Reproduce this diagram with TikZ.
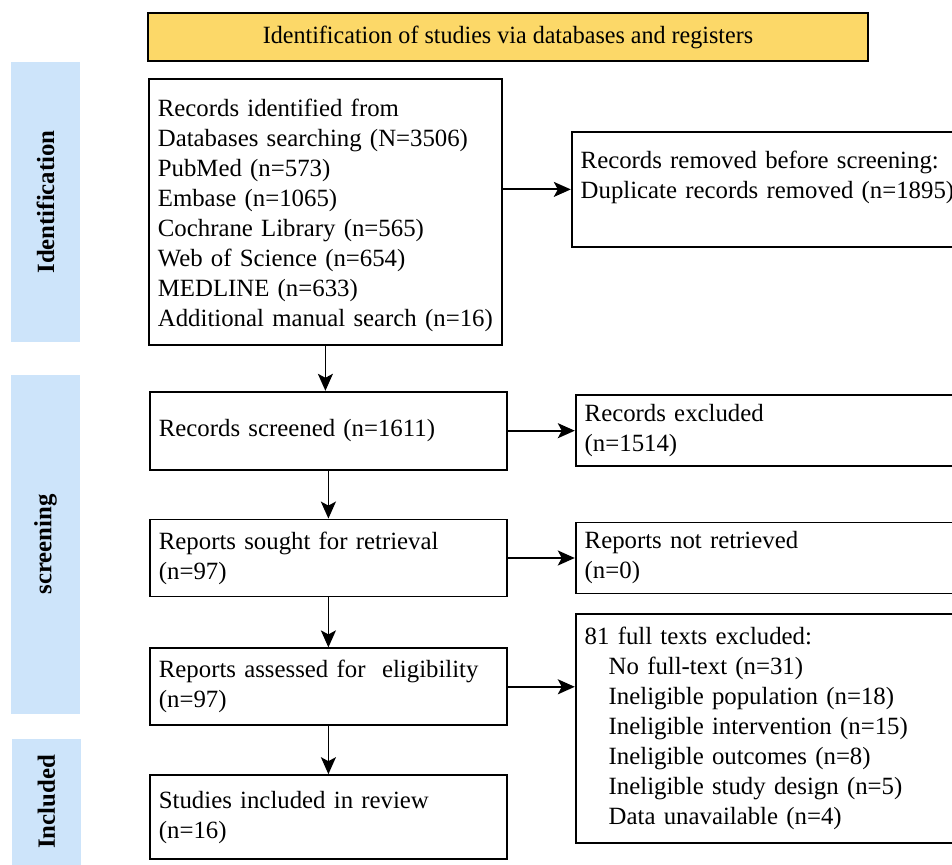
\documentclass[tikz,border=0pt]{standalone}
\usepackage{fontspec}
\setmainfont{Liberation Serif}
\usetikzlibrary{arrows.meta, positioning}
\definecolor{titleyellow}{RGB}{252,216,104}
\definecolor{phaseblue}{RGB}{205,228,250}
\tikzset{
>={Stealth[length=8.5pt,width=7.5pt,inset=2pt]}, % bold arrow heads
every node/.style={inner sep=1pt},
box/.style={draw, line width=0.9pt, align=left, inner xsep=4.5pt, inner ysep=0pt}, % flow boxes
phase/.style={fill=phaseblue, rotate=90, font=\fontsize{12.4}{15}\selectfont\bfseries}, % blue side bars
}

\begin{document}
\begin{tikzpicture}[x=0.5pt, y=-0.5pt, font=\fontsize{12.4}{15}\selectfont]
  \clip (0,0) rectangle (952,865);

  % phases on the left
  \node[phase, minimum width=140pt, minimum height=34.5pt] (pid) at (45.5,202) {Identification};
  \node[phase, minimum width=169.5pt, minimum height=34.5pt] (pscr) at (45.5,544.5) {screening};
  \node[phase, minimum width=63pt, minimum height=34.5pt] (pinc) at (46.5,802) {Included};

  % title
  \node[draw, line width=0.9pt, fill=titleyellow, minimum width=360pt, minimum height=24pt] (title) at (508,37)
    {\scalebox{0.97}[1]{Identification of studies via databases and registers}};

  % main column
  \node[box, anchor=north west, text width=167.5pt, minimum height=133pt] (records) at (148,78)
    {\rule{0pt}{12.5pt}Records identified from\\ Databases searching (N=3506)\\ PubMed (n=573)\\ Embase (n=1065)\\
     Cochrane Library (n=565)\\ Web of Science (n=654)\\ MEDLINE (n=633)\\ Additional manual search (n=16)};
  \node[box, below=22.5pt of records.south west, anchor=north west, xshift=0.5pt, text width=169.5pt, minimum height=39pt] (screened)
    {Records screened (n=1611)};
  \node[box, below=24pt of screened.south west, anchor=north west, text width=169.5pt, minimum height=38.5pt] (sought)
    {Reports sought for retrieval\\ (n=97)};
  \node[box, below=25pt of sought.south west, anchor=north west, text width=169.5pt, minimum height=38.5pt] (assessed)
    {Reports assessed for \ eligibility\\ (n=97)};
  \node[box, below=24pt of assessed.south west, anchor=north west, text width=169.5pt, minimum height=42pt] (included)
    {Studies included in review\\ (n=16)};

  % right column
  \node[box, right=34pt of records.east, yshift=11.25pt, text width=191pt, minimum height=57.5pt] (removed)
    {Records removed before screening:\\ Duplicate records removed (n=1895)\\ \mbox{}};
  \node[box, right=33.5pt of screened, text width=191pt, minimum height=35.5pt] (excluded)
    {Records excluded\\ (n=1514)};
  \node[box, right=33.5pt of sought, text width=191pt, minimum height=35.5pt] (notretr)
    {Reports not retrieved\\ (n=0)};
  \node[box, right=33.5pt of assessed.east, yshift=-21pt, text width=191pt, minimum height=114.5pt] (fulltext)
    {81 full texts excluded:\\
     \hspace{12pt}No full-text (n=31)\\
     \hspace{12pt}Ineligible population (n=18)\\
     \hspace{12pt}Ineligible intervention (n=15)\\
     \hspace{12pt}Ineligible outcomes (n=8)\\
     \hspace{12pt}Ineligible study design (n=5)\\
     \hspace{12pt}Data unavailable (n=4)};

  \path[->, line width=0.9pt]
  (records.south) edge (records.south |- screened.north)
  (screened) edge (sought)
  (sought) edge (assessed)
  (assessed) edge (included)
  (records.east |- removed.west) edge (removed.west)
  (screened) edge (excluded)
  (sought) edge (notretr)
  (assessed.east) edge (assessed.east -| fulltext.west);
\end{tikzpicture}
\end{document}
